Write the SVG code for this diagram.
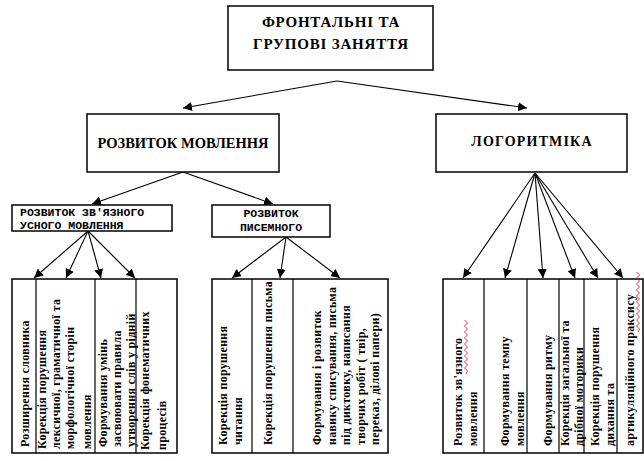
<svg xmlns="http://www.w3.org/2000/svg" width="644" height="461" viewBox="0 0 644 461">
<style>
.box{fill:#fff;stroke:#000;stroke-width:1.5}
.div{stroke:#000;stroke-width:1.2;fill:none}
.t{font-family:'Liberation Serif','Times New Roman',serif;font-weight:bold;fill:#000}
.h{font-size:15px;letter-spacing:0.8px}
.m{font-family:'Liberation Mono','Courier New',monospace;font-weight:bold;font-size:11.5px;fill:#000}
.r{font-family:'Liberation Serif','Times New Roman',serif;font-weight:bold;font-size:12px;fill:#000;letter-spacing:0.3px}
.c line{stroke:#000;stroke-width:1.1;marker-end:url(#a)}
.sq{fill:none;stroke:#e00;stroke-width:0.8}
</style>
<defs>
<marker id="a" markerUnits="userSpaceOnUse" markerWidth="10" markerHeight="9" refX="9" refY="4.5" orient="auto">
<path d="M0,0 L9,4.5 L0,9 Z" fill="#000"/>
</marker>
</defs>

<g id="connectors" class="c">
<line x1="337" y1="81" x2="183" y2="108"/>
<line x1="337" y1="81" x2="527" y2="108"/>
<line x1="183" y1="172" x2="92" y2="204"/>
<line x1="183" y1="172" x2="273" y2="204"/>
<line x1="88" y1="231" x2="34" y2="278"/>
<line x1="88" y1="231" x2="66" y2="278"/>
<line x1="88" y1="231" x2="101" y2="278"/>
<line x1="88" y1="231" x2="135" y2="278"/>
<line x1="286" y1="237" x2="232" y2="278"/>
<line x1="286" y1="237" x2="280" y2="278"/>
<line x1="286" y1="237" x2="340" y2="278"/>
<line x1="535" y1="173" x2="463" y2="278"/>
<line x1="535" y1="173" x2="505" y2="278"/>
<line x1="535" y1="173" x2="543" y2="278"/>
<line x1="535" y1="173" x2="575" y2="278"/>
<line x1="535" y1="173" x2="598" y2="278"/>
<line x1="535" y1="173" x2="623" y2="278"/>
</g>

<g id="top">
<rect class="box" x="228" y="6" width="205" height="64"/>
<text class="t h" x="331" y="27" text-anchor="middle">ФРОНТАЛЬНІ  ТА</text>
<text class="t h" x="331" y="49" text-anchor="middle">ГРУПОВІ ЗАНЯТТЯ</text>
</g>

<g id="rozvytok">
<rect class="box" x="87" y="114" width="192" height="58"/>
<text class="t" font-size="14.5" x="183" y="148" text-anchor="middle">РОЗВИТОК МОВЛЕННЯ</text>
</g>

<g id="logorytmika">
<rect class="box" x="436" y="114" width="191" height="58"/>
<text class="t" font-size="14" letter-spacing="1.2" x="532" y="146" text-anchor="middle">ЛОГОРИТМІКА</text>
</g>

<g id="usne">
<rect class="box" x="12" y="205" width="160" height="26"/>
<text class="m" x="20" y="216">РОЗВИТОК ЗВ'ЯЗНОГО</text>
<text class="m" x="20" y="229">УСНОГО МОВЛЕННЯ</text>
</g>

<g id="pysemne">
<rect class="box" x="212" y="205" width="118" height="32"/>
<text class="m" x="271" y="217" text-anchor="middle">РОЗВИТОК</text>
<text class="m" x="271" y="231" text-anchor="middle">ПИСЕМНОГО</text>
</g>

<g id="usne-list">
<rect class="box" x="12" y="279" width="165" height="174"/>
<line class="div" x1="36" y1="279" x2="36" y2="453"/>
<line class="div" x1="95" y1="279" x2="95" y2="453"/>
<line class="div" x1="136" y1="279" x2="136" y2="453"/>
<text class="r" transform="translate(29,447) rotate(-90)">Розширення словника</text>
<text class="r" transform="translate(46,449) rotate(-90)"><tspan x="0" dy="0">Корекція порушення</tspan><tspan x="0" dy="14">лексичної, граматичної  та</tspan><tspan x="0" dy="14">морфологічної сторін</tspan><tspan x="0" dy="17">мовлення</tspan></text>
<text class="r" transform="translate(107,447) rotate(-90)"><tspan x="0" dy="0">Формування умінь</tspan><tspan x="0" dy="14">засвоювати правила</tspan><tspan x="0" dy="14">утворення слів у рідній</tspan></text>
<text class="r" transform="translate(149,450) rotate(-90)"><tspan x="0" dy="0">Корекція фонематичних</tspan><tspan x="0" dy="17">процесів</tspan></text>
</g>

<g id="pysemne-list">
<rect class="box" x="212" y="279" width="176" height="174"/>
<line class="div" x1="252" y1="279" x2="252" y2="453"/>
<line class="div" x1="293" y1="279" x2="293" y2="453"/>
<text class="r" transform="translate(227,445) rotate(-90)"><tspan x="0" dy="0">Корекція порушення</tspan><tspan x="0" dy="15">читання</tspan></text>
<text class="r" transform="translate(272,445) rotate(-90)">Корекція порушення письма</text>
<text class="r" transform="translate(321,445) rotate(-90)"><tspan x="0" dy="0">Формування і розвиток</tspan><tspan x="0" dy="14.5">навику списування, письма</tspan><tspan x="0" dy="14.5">під диктовку,  написання</tspan><tspan x="0" dy="14.5">творчих робіт ( твір,</tspan><tspan x="0" dy="14.5">переказ, ділові папери)</tspan></text>
</g>

<g id="logo-list">
<rect class="box" x="443" y="279" width="200" height="174"/>
<line class="div" x1="484" y1="279" x2="484" y2="453"/>
<line class="div" x1="527" y1="279" x2="527" y2="453"/>
<line class="div" x1="559" y1="279" x2="559" y2="453"/>
<line class="div" x1="584" y1="279" x2="584" y2="453"/>
<line class="div" x1="617" y1="279" x2="617" y2="453"/>
<text class="r" transform="translate(462,446) rotate(-90)"><tspan x="0" dy="0">Розвиток зв'язного</tspan><tspan x="0" dy="15">мовлення</tspan></text>
<text class="r" transform="translate(509,446) rotate(-90)"><tspan x="0" dy="0">Формування темпу</tspan><tspan x="0" dy="15">мовлення</tspan></text>
<text class="r" transform="translate(552,446) rotate(-90)">Формування ритму</text>
<text class="r" transform="translate(569,446) rotate(-90)"><tspan x="0" dy="0">Корекція  загальної та</tspan><tspan x="0" dy="14">дрібної моторики</tspan></text>
<text class="r" transform="translate(599,446) rotate(-90)"><tspan x="0" dy="0">Корекція порушення</tspan><tspan x="0" dy="15">дихання та</tspan></text>
<text class="r" transform="translate(634,446) rotate(-90)">артикуляційного праксису</text>
<path class="sq" d="M466,374 l1.5,-3 l-3,-3 l3,-3 l-3,-3 l3,-3 l-3,-3 l3,-3 l-3,-3 l3,-3 l-3,-3 l3,-3 l-3,-3 l3,-3 l-3,-3 l3,-3 l-3,-3 l3,-3 l-3,-3"/>
<path class="sq" d="M638,332 l1.5,-3 l-3,-3 l3,-3 l-3,-3 l3,-3 l-3,-3 l3,-3 l-3,-3 l3,-3 l-3,-3 l3,-3 l-3,-3 l3,-3 l-3,-3 l3,-3 l-3,-3 l3,-3 l-3,-3 l3,-3 l-3,-3"/>
</g>
</svg>
